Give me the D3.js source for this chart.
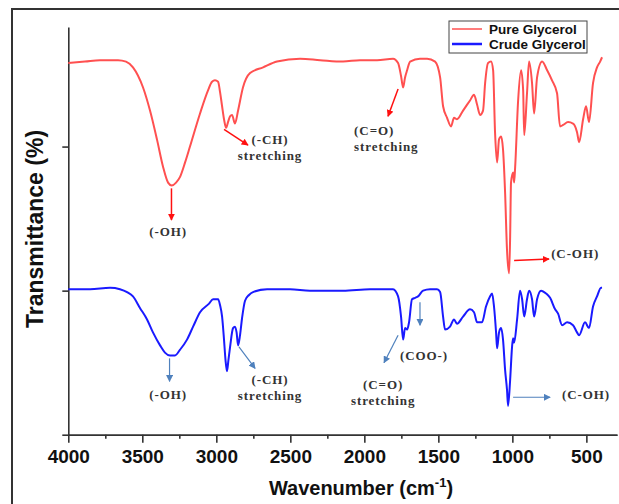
<!DOCTYPE html>
<html>
<head>
<meta charset="utf-8">
<script src="https://cdn.jsdelivr.net/npm/d3@7"></script>
<style>
body{margin:0;background:#fff;}
.axis path,.axis line{stroke:#333;stroke-width:1.6;}
.axis text{font-family:"Liberation Sans",Arial,sans-serif;font-weight:bold;font-size:19px;fill:#111;}
.note{font-family:"Liberation Serif","Times New Roman",serif;font-weight:bold;font-size:13px;fill:#333;letter-spacing:0.9px;}
</style>
</head>
<body>
<div id="chart"></div>
<script>
// FTIR spectra (wavenumber cm-1 / transmittance, arbitrary units)
var pureWn=[4000,3887,3786,3664,3610,3563,3495,3448,3401,3360,
  3326,3301,3272,3245,3211,3178,3110,3056,3029,3009,
  2988,2975,2961,2948,2934,2921,2907,2894,2874,2853,
  2820,2772,2684,2590,2434,2299,2144,2029,1914,1806,
  1772,1752,1738,1725,1711,1691,1624,1576,1522,1488,
  1468,1441,1414,1394,1374,1333,1286,1259,1238,1218,
  1198,1184,1164,1144,1130,1117,1103,1090,1076,1063,
  1049,1036,1022,1015,1009,995,988,981,961,941,
  927,920,901,887,867,853,833,799,765,732,
  698,678,657,624,590,563,549,522,502,482,
  455,428,407,394];
var pureT=[2.58,2.59,2.60,2.60,2.59,2.55,2.41,2.25,2.05,1.86,
  1.75,1.73,1.75,1.79,1.89,2.00,2.23,2.39,2.45,2.46,
  2.45,2.38,2.28,2.19,2.13,2.17,2.21,2.22,2.16,2.25,
  2.41,2.51,2.55,2.59,2.61,2.60,2.59,2.60,2.60,2.61,
  2.58,2.49,2.41,2.48,2.53,2.59,2.61,2.61,2.59,2.48,
  2.28,2.20,2.14,2.20,2.19,2.25,2.32,2.36,2.29,2.22,
  2.25,2.44,2.58,2.59,2.53,2.10,1.89,2.05,2.07,1.98,
  1.68,1.28,1.12,1.37,1.75,1.82,1.75,1.86,2.32,2.53,
  2.39,2.08,2.37,2.59,2.44,2.23,2.48,2.59,2.53,2.46,
  2.37,2.14,2.15,2.17,2.16,2.10,2.03,2.19,2.28,2.17,
  2.44,2.55,2.59,2.62];

var crudeWn=[4000,3853,3718,3651,3603,3563,3516,3468,3428,3380,
  3347,3313,3279,3245,3198,3157,3110,3049,3022,2988,
  2975,2961,2948,2938,2928,2918,2907,2887,2874,2863,
  2853,2840,2826,2806,2779,2752,2657,2502,2367,2144,
  1961,1806,1772,1752,1738,1725,1711,1698,1678,1657,
  1637,1603,1556,1509,1488,1468,1455,1421,1394,1374,
  1333,1286,1259,1238,1205,1178,1151,1137,1124,1110,
  1103,1090,1076,1063,1049,1036,1029,1015,1002,995,
  988,968,948,934,920,901,887,867,853,833,
  806,772,745,711,691,664,630,590,563,549,
  509,482,455,428,401,394];
var crudeT=[1.01,1.01,1.02,1.01,0.99,0.96,0.88,0.80,0.71,0.62,
  0.57,0.55,0.55,0.59,0.66,0.75,0.85,0.91,0.94,0.94,
  0.90,0.82,0.66,0.52,0.44,0.52,0.61,0.74,0.75,0.71,
  0.62,0.69,0.81,0.93,0.97,0.99,1.01,1.01,1.00,1.00,
  1.01,1.01,0.96,0.82,0.66,0.74,0.73,0.78,0.94,0.95,
  0.96,1.00,1.01,1.01,0.99,0.82,0.73,0.75,0.80,0.77,
  0.82,0.87,0.85,0.78,0.78,0.89,0.96,0.98,0.89,0.71,
  0.60,0.71,0.74,0.66,0.45,0.31,0.20,0.38,0.61,0.67,
  0.64,0.80,1.00,0.94,0.82,0.94,1.00,0.94,0.82,0.94,
  1.00,0.98,0.95,0.87,0.84,0.76,0.78,0.76,0.71,0.69,
  0.78,0.74,0.89,0.96,1.02,1.02];

var seriesNames=["Pure Glycerol","Crude Glycerol"];
var xTicks=[4000,3500,3000,2500,2000,1500,1000,500];
var xMinorTicks=[3750,3250,2750,2250,1750,1250,750];
var yTicks=[0,1,2];

// peak labels, anchored in data coordinates (wavenumber, transmittance)
var notes=[
  {s:0,lines:["(-OH)"],tw:3326,tv:1.38,anchor:"middle",a:[3303,1.71,3303,1.49]},
  {s:0,lines:["(-CH)","stretching"],tw:2637,tv:2.02,anchor:"middle",a:[2948,2.12,2786,2.01]},
  {s:0,lines:["(C=O)","stretching"],tw:2069,tv:2.08,anchor:"start",a:[1772,2.40,1840,2.21]},
  {s:0,lines:["(C-OH)"],tw:738,tv:1.23,anchor:"start",a:[988,1.21,752,1.22]},
  {s:1,lines:["(-OH)"],tw:3326,tv:0.25,anchor:"middle",a:[3316,0.53,3316,0.37]},
  {s:1,lines:["(-CH)","stretching"],tw:2637,tv:0.35,anchor:"middle",a:[2847,0.61,2738,0.46]},
  {s:1,lines:["(C=O)","stretching"],tw:1873,tv:0.32,anchor:"middle",a:[1772,0.69,1867,0.50]},
  {s:1,lines:["(COO-)"],tw:1759,tv:0.52,anchor:"start",a:[1624,0.92,1624,0.76]},
  {s:1,lines:["(C-OH)"],tw:664,tv:0.25,anchor:"start",a:[995,0.26,745,0.26]}
];

var w=619, h=504;
var lineColors=["#ff5050","#1a1aff"];
var arrowColors=["#ff1010","#4f81bd"];

var svg=d3.select("#chart").append("svg")
  .attr("width",w)
  .attr("height",h);

// outer frame (runs off the right and bottom edges)
svg.append("rect")
  .attr("x",12).attr("y",9)
  .attr("width",700).attr("height",600)
  .attr("fill","none")
  .attr("stroke","#333")
  .attr("stroke-width",2);

var xScale=d3.scaleLinear().domain([4000,293]).range([68.3,617]);
var yScale=d3.scaleLinear().domain([0,2.83]).range([434.7,27]);

// arrow heads
var defs=svg.append("defs");
arrowColors.forEach(function(c,i){
  defs.append("marker")
    .attr("id","head"+i)
    .attr("viewBox","0 0 10 10")
    .attr("refX",9).attr("refY",5)
    .attr("markerWidth",7).attr("markerHeight",7)
    .attr("markerUnits","userSpaceOnUse")
    .attr("orient","auto")
    .append("path")
    .attr("d","M0,0L10,5L0,10Z")
    .attr("fill",c);
});

// axes
svg.append("g")
  .attr("class","axis")
  .attr("transform","translate(0,"+yScale(0)+")")
  .call(d3.axisBottom(xScale).tickValues(xMinorTicks).tickSize(4).tickSizeOuter(0).tickFormat(""));
svg.append("g")
  .attr("class","axis")
  .attr("transform","translate(0,"+yScale(0)+")")
  .call(d3.axisBottom(xScale).tickValues(xTicks).tickSize(8).tickSizeOuter(0).tickPadding(7).tickFormat(d3.format("d")));
svg.append("g")
  .attr("class","axis")
  .attr("transform","translate("+xScale(4000)+",0)")
  .call(d3.axisLeft(yScale).tickValues(yTicks).tickSize(6).tickSizeOuter(0).tickFormat(""));

// axis titles
svg.append("text")
  .attr("transform","translate(43,229)rotate(-90)")
  .attr("text-anchor","middle")
  .style("font-family","'Liberation Sans',Arial,sans-serif")
  .style("font-weight","bold")
  .style("font-size","23px")
  .style("fill","#111")
  .text("Transmittance (%)");

var xt=svg.append("text")
  .attr("x",361).attr("y",495)
  .attr("text-anchor","middle")
  .style("font-family","'Liberation Sans',Arial,sans-serif")
  .style("font-weight","bold")
  .style("font-size","20px")
  .style("fill","#111");
xt.append("tspan").text("Wavenumber (cm");
xt.append("tspan").attr("dy",-8).style("font-size","13px").text("-1");
xt.append("tspan").attr("dy",8).text(")");

// spectra
var line=d3.line()
  .x(function(d){return xScale(d[0]);})
  .y(function(d){return yScale(d[1]);})
  .curve(d3.curveMonotoneX);

[[pureWn,pureT],[crudeWn,crudeT]].forEach(function(s,i){
  svg.append("path")
    .datum(d3.zip(s[0],s[1]))
    .attr("d",line)
    .attr("fill","none")
    .attr("stroke",lineColors[i])
    .attr("stroke-width",2)
    .attr("stroke-linejoin","round");
});

// annotations
notes.forEach(function(n){
  svg.append("line")
    .attr("x1",xScale(n.a[0])).attr("y1",yScale(n.a[1]))
    .attr("x2",xScale(n.a[2])).attr("y2",yScale(n.a[3]))
    .attr("stroke",arrowColors[n.s])
    .attr("stroke-width",n.s==0?1.5:1.2)
    .attr("marker-end","url(#head"+n.s+")");
  var t=svg.append("text")
    .attr("class","note")
    .attr("text-anchor",n.anchor)
    .attr("x",xScale(n.tw))
    .attr("y",yScale(n.tv));
  n.lines.forEach(function(l,j){
    t.append("tspan")
      .attr("x",xScale(n.tw))
      .attr("dy",j==0?0:16)
      .text(l);
  });
});

// legend
var lg=svg.append("g").attr("transform","translate(449,21)");
lg.append("rect")
  .attr("width",138).attr("height",32)
  .attr("fill","#fff")
  .attr("stroke","#444")
  .attr("stroke-width",1);
seriesNames.forEach(function(name,i){
  lg.append("line")
    .attr("x1",3).attr("x2",33)
    .attr("y1",8+i*15).attr("y2",8+i*15)
    .attr("stroke",lineColors[i])
    .attr("stroke-width",i==0?1.5:2.5);
  lg.append("text")
    .attr("x",40).attr("y",13+i*15)
    .style("font-family","'Liberation Sans',Arial,sans-serif")
    .style("font-weight","bold")
    .style("font-size","13.5px")
    .style("fill","#111")
    .text(name);
});
</script>
</body>
</html>
